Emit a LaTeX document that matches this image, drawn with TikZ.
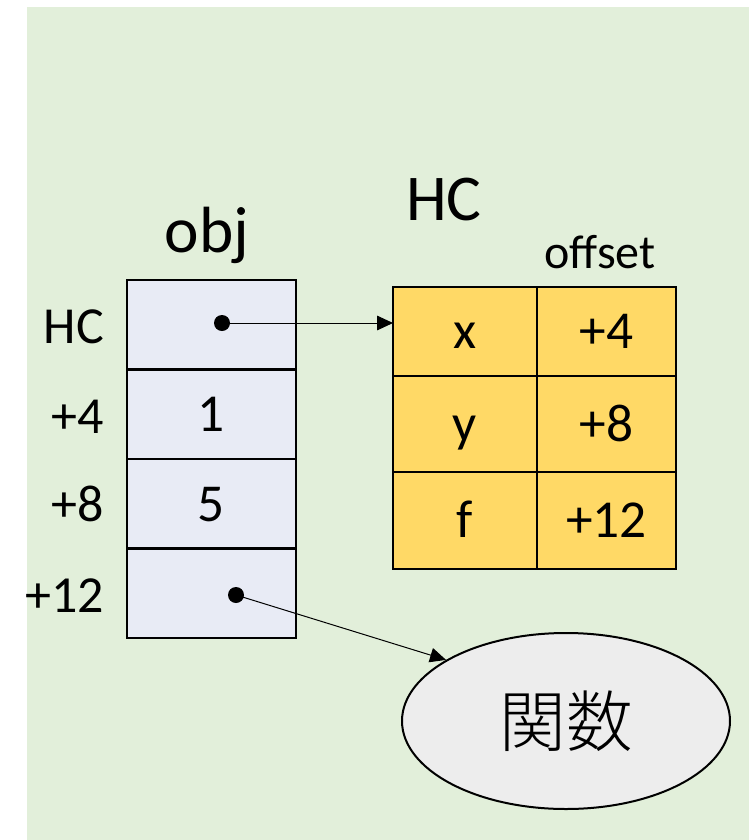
\documentclass[tikz,border=0pt]{standalone}
\usepackage{fontspec}
\setmainfont{Carlito}
\newfontfamily\jpfont{Noto Sans CJK JP Light}
\usetikzlibrary{shapes.geometric,arrows.meta}
\definecolor{bggreen}{HTML}{E2EFDA}
\definecolor{objfill}{HTML}{E8EBF5}
\definecolor{hcfill}{HTML}{FFD966}
\definecolor{fnfill}{HTML}{EDEDED}
\tikzset{
  cellbase/.style={draw=black, line width=1.5pt, rectangle, inner sep=0pt, outer sep=0pt,
    anchor=north west, font=\fontsize{40}{48}\selectfont, text height=26pt, text depth=0pt},
  objcell/.style={cellbase, fill=objfill, minimum width=126.75pt, minimum height=67.1pt},
  hccell/.style={cellbase, fill=hcfill},
  sidelabel/.style={anchor=base east, inner sep=0pt, font=\fontsize{39}{47}\selectfont},
  title/.style={anchor=base, inner sep=0pt, font=\fontsize{49}{58}\selectfont},
  pointer/.style={line width=0.75pt, -{Triangle[length=12pt,width=11pt]}},
  dot/.style={fill=black}
}
\begin{document}
\begin{tikzpicture}[x=0.75pt,y=-0.75pt]
\useasboundingbox (0,0) rectangle (755,840);
\fill[bggreen] (27,7) rectangle (749,840);

% titles
\node[title] (objtitle) at (207,252) {obj};
\node[title] (hctitle) at (444,220) {HC};
\node[anchor=base, inner sep=0pt, font=\fontsize{36}{43}\selectfont] (offtitle) at (600,268) {offset};

% object slots
\node[objcell] (o1) at (127,280) {};
\node[objcell] (o2) at (127,369.5) {1};
\node[objcell] (o3) at (127,459) {5};
\node[objcell] (o4) at (127,548.5) {};

% slot offsets
\node[sidelabel] (l1) at (104,343) {HC};
\node[sidelabel] (l2) at (104,433) {+4};
\node[sidelabel] (l3) at (104,521) {+8};
\node[sidelabel] (l4) at (104,612) {+12};

% hidden class table
\node[hccell, minimum width=108pt, minimum height=66.75pt] (t11) at (393,287) {x};
\node[hccell, minimum width=104.25pt, minimum height=66.75pt] (t12) at (537,287) {+4};
\node[hccell, minimum width=108pt, minimum height=72pt] (t21) at (393,376) {y};
\node[hccell, minimum width=104.25pt, minimum height=72pt] (t22) at (537,376) {+8};
\node[hccell, minimum width=108pt, minimum height=72.75pt] (t31) at (393,472) {f};
\node[hccell, minimum width=104.25pt, minimum height=72.75pt] (t32) at (537,472) {+12};

% function object
\node[ellipse, draw=black, line width=1.5pt, fill=fnfill, inner sep=0pt,
  minimum width=246pt, minimum height=132pt, font=\fontsize{50}{60}\selectfont\jpfont]
  (fn) at (566,721) {関数};

% pointers
\coordinate (d1) at (222,323);
\coordinate (d2) at (236,595);
\fill[dot] (d1) circle[radius=6pt];
\fill[dot] (d2) circle[radius=6pt];
\draw[pointer] (d1) -- (d1 -| t11.west);
\draw[pointer] (d2) -- (fn.153);
\end{tikzpicture}
\end{document}
